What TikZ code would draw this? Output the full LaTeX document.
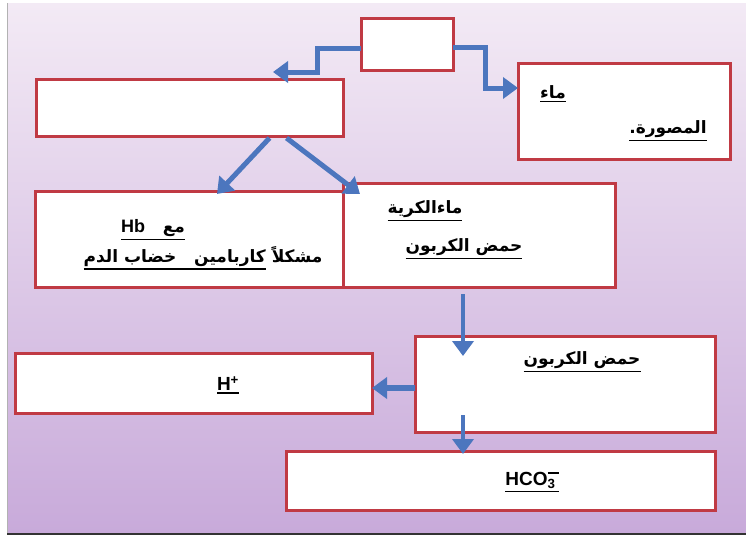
\documentclass[tikz,border=0pt]{standalone}
\usepackage{fontspec}
\setmainfont{Liberation Sans}
\newfontfamily\arfont[Script=Arabic]{DejaVu Sans}
\TeXXeTstate=1
\usetikzlibrary{arrows.meta}
\definecolor{bgtop}{RGB}{243,234,245}
\definecolor{bgbot}{RGB}{200,170,218}
\definecolor{boxred}{RGB}{192,58,68}
\definecolor{arrblue}{RGB}{76,118,190}
\newcommand\ulx[1]{\vtop{\hbox{#1}\kern1.6pt\hrule height1.6pt}}
\newcommand\ARU[1]{{\arfont\bfseries\ulx{\beginR #1\endR}}}
\begin{document}
\begin{tikzpicture}[x=1pt,y=-1pt,
  box/.style={draw=boxred,line width=3pt,fill=white,inner sep=0pt,outer sep=0pt},
  arr/.style={draw=arrblue,line width=5pt,-{Triangle[width=21pt,length=15pt]}},
  txt/.style={inner sep=0pt,font=\fontsize{17}{20}\selectfont},
  lat/.style={inner sep=0pt,font=\fontsize{19}{22}\selectfont\bfseries}]
\useasboundingbox (0,0) rectangle (746,538);
\fill[white] (0,0) rectangle (746,538);
\shade[top color=bgtop,bottom color=bgbot] (7,3) rectangle (746,533);
\draw[gray!60,line width=0.8pt] (7.4,3) -- (7.4,533);
\draw[black!80,line width=2pt] (7,534) -- (746,534);

% boxes
\node[box,minimum width=92pt,minimum height=52pt] (top) at (407,44) {};
\node[box,minimum width=307pt,minimum height=57pt] (lbox) at (189.5,107.5) {};
\node[box,minimum width=212pt,minimum height=96pt] (rbox) at (624,111) {};
\node[box,minimum width=308pt,minimum height=96pt] (bigL) at (189,239) {};
\node[box,minimum width=272pt,minimum height=104pt] (bigR) at (479,235) {};
\node[box,minimum width=300pt,minimum height=96pt] (carb) at (565,384) {};
\node[box,minimum width=357pt,minimum height=60pt] (hplus) at (193.5,383) {};
\node[box,minimum width=429pt,minimum height=59pt] (hco) at (500.5,480.5) {};

% texts
\node[txt] (tmaa) at (553,94) {\ARU{ماء}};
\node[txt] (tmas) at (668,131) {\ARU{المصورة.}};
\node[txt] (thb) at (153,230) {{\arfont\bfseries\ulx{\beginR مع\ \ \ {\normalfont\fontsize{18}{20}\selectfont\bfseries\beginL Hb\endL}\endR}}};
\node[txt] (tcarb) at (203,258) {{\arfont\bfseries\beginR مشكلاً\ \ulx{\beginR كاربامين\ \ \ خضاب الدم\endR}\endR}};
\node[txt] (tkur) at (425,211) {\ARU{ماءالكرية}};
\node[txt] (thm1) at (464,249) {\ARU{حمض الكربون}};
\node[txt] (thm2) at (582,362) {\ARU{حمض الكربون}};
\node[lat] (th) at (228,385) {\ulx{H\textsuperscript{+}}};
\node[lat] (thco) at (532,482) {\ulx{HCO\rlap{\textsubscript{3}}\raisebox{12pt}{\rule{11pt}{1.8pt}}}};

% connectors
\coordinate (t1) at (273,72);
\coordinate (k1) at (317,72);
\coordinate (k2) at (485,88);
\coordinate (d1) at (217,194);
\coordinate (d2) at (360,194);
\coordinate (v1) at (463,356);
\coordinate (v2) at (463,454);
\draw[arr] ([yshift=-4pt]top.west) -| (k1) -- (t1);
\draw[arr] ([yshift=-3pt]top.east) -| (k2) -- (rbox.west |- k2);
\draw[arr] ([xshift=80pt,yshift=-2pt]lbox.south) -- (d1);
\draw[arr] ([xshift=97pt,yshift=-2pt]lbox.south) -- (d2);
\draw[arr,line width=4pt] ([xshift=-16pt,yshift=-7pt]bigR.south) -- (v1);
\draw[arr,line width=6.5pt] ([yshift=-4pt]carb.west) -- ([yshift=-5pt]hplus.east);
\draw[arr,line width=4pt] ([xshift=-102pt,yshift=17pt]carb.south) -- (v2);
\end{tikzpicture}
\end{document}
